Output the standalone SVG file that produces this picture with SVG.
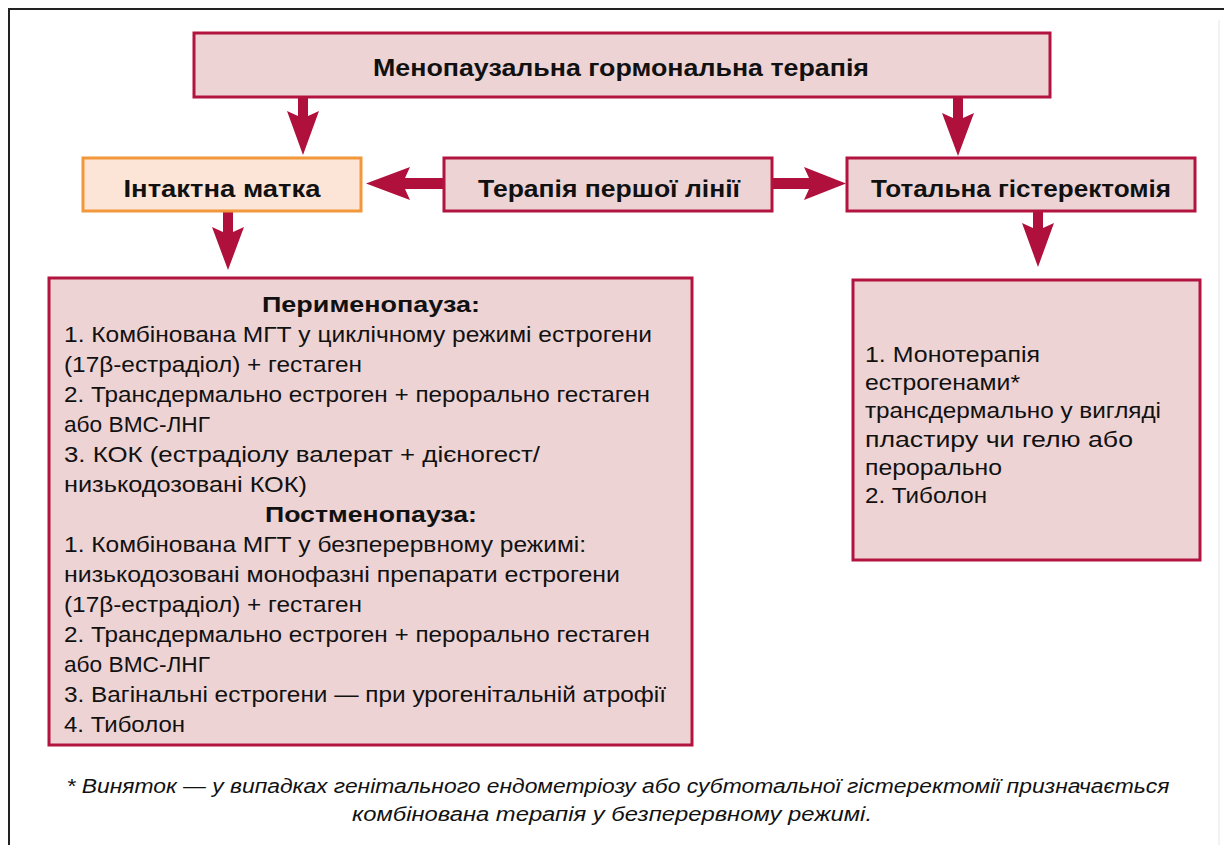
<svg xmlns="http://www.w3.org/2000/svg" width="1224" height="845" viewBox="0 0 1224 845">
<style>
.box{fill:#edd3d3;stroke:#b3143f;stroke-width:3}
.obox{fill:#fce5d7;stroke:#f2973a;stroke-width:3}
.arr{fill:#b0103c}
.t{font-family:"Liberation Sans",Arial,sans-serif;fill:#111}
.h{font-weight:bold;font-size:23px;text-anchor:middle}
.b{font-size:22px}
.bh{font-weight:bold;font-size:22px;text-anchor:middle}
.f{font-style:italic;font-size:20px;text-anchor:middle}
</style>
<rect x="0" y="0" width="1224" height="845" fill="#fff"/>
<path d="M9,845 V9 H1224" fill="none" stroke="#222" stroke-width="2"/>
<line x1="1219" y1="20" x2="1219" y2="845" stroke="#e6e6e6" stroke-width="1"/>

<g id="connectors">
<polygon class="arr" points="298,97 298,116 287,111 303,155 319,111 308,116 308,97"/>
<polygon class="arr" points="953,97 953,118 942,113 958,156 974,113 963,118 963,97"/>
<polygon class="arr" points="223,211 223,232 212,227 228,270 244,227 233,232 233,211"/>
<polygon class="arr" points="1033,211 1033,228 1022,223 1038,267 1054,223 1043,228 1043,211"/>
<polygon class="arr" points="444,178 405,178 410,167 366,183.5 410,200 405,189 444,189"/>
<polygon class="arr" points="772,178 809,178 804,167 846,183.5 804,200 809,189 772,189"/>
</g>

<g id="node-mht">
<rect class="box" x="194" y="33" width="856" height="64"/>
<text class="t h" x="621" y="76" font-size="24" textLength="496" lengthAdjust="spacingAndGlyphs">Менопаузальна гормональна терапія</text>
</g>

<g id="node-intact">
<rect class="obox" x="83" y="158" width="278" height="53"/>
<text class="t h" x="222" y="197" textLength="197" lengthAdjust="spacingAndGlyphs">Інтактна матка</text>
</g>

<g id="node-first-line">
<rect class="box" x="444" y="158" width="328" height="53"/>
<text class="t h" x="609" y="197" textLength="262" lengthAdjust="spacingAndGlyphs">Терапія першої лінії</text>
</g>

<g id="node-total">
<rect class="box" x="847" y="158" width="348" height="53"/>
<text class="t h" x="1021" y="197" textLength="300" lengthAdjust="spacingAndGlyphs">Тотальна гістеректомія</text>
</g>

<g id="node-intact-therapy">
<rect class="box" x="49" y="278" width="643" height="467"/>
<text class="t bh" x="371" y="312" textLength="218" lengthAdjust="spacingAndGlyphs">Перименопауза:</text>
<text class="t b" x="64" y="342" textLength="588" lengthAdjust="spacingAndGlyphs">1. Комбінована МГТ у циклічному режимі естрогени</text>
<text class="t b" x="64" y="372" textLength="298" lengthAdjust="spacingAndGlyphs">(17β-естрадіол) + гестаген</text>
<text class="t b" x="64" y="402" textLength="586" lengthAdjust="spacingAndGlyphs">2. Трансдермально естроген + перорально гестаген</text>
<text class="t b" x="64" y="432" textLength="146" lengthAdjust="spacingAndGlyphs">або ВМС-ЛНГ</text>
<text class="t b" x="64" y="462" textLength="476" lengthAdjust="spacingAndGlyphs">3. КОК (естрадіолу валерат + дієногест/</text>
<text class="t b" x="64" y="492" textLength="243" lengthAdjust="spacingAndGlyphs">низькодозовані КОК)</text>
<text class="t bh" x="371" y="522" textLength="212" lengthAdjust="spacingAndGlyphs">Постменопауза:</text>
<text class="t b" x="64" y="552" textLength="522" lengthAdjust="spacingAndGlyphs">1. Комбінована МГТ у безперервному режимі:</text>
<text class="t b" x="64" y="582" textLength="556" lengthAdjust="spacingAndGlyphs">низькодозовані монофазні препарати естрогени</text>
<text class="t b" x="64" y="612" textLength="298" lengthAdjust="spacingAndGlyphs">(17β-естрадіол) + гестаген</text>
<text class="t b" x="64" y="642" textLength="586" lengthAdjust="spacingAndGlyphs">2. Трансдермально естроген + перорально гестаген</text>
<text class="t b" x="64" y="672" textLength="146" lengthAdjust="spacingAndGlyphs">або ВМС-ЛНГ</text>
<text class="t b" x="64" y="702" textLength="602" lengthAdjust="spacingAndGlyphs">3. Вагінальні естрогени — при урогенітальній атрофії</text>
<text class="t b" x="64" y="732" textLength="121" lengthAdjust="spacingAndGlyphs">4. Тиболон</text>
</g>

<g id="node-total-therapy">
<rect class="box" x="853" y="280" width="347" height="280"/>
<text class="t b" x="865" y="362" textLength="175" lengthAdjust="spacingAndGlyphs">1. Монотерапія</text>
<text class="t b" x="865" y="390" textLength="155" lengthAdjust="spacingAndGlyphs">естрогенами*</text>
<text class="t b" x="865" y="418" textLength="296" lengthAdjust="spacingAndGlyphs">трансдермально у вигляді</text>
<text class="t b" x="865" y="447" textLength="268" lengthAdjust="spacingAndGlyphs">пластиру чи гелю або</text>
<text class="t b" x="865" y="475" textLength="137" lengthAdjust="spacingAndGlyphs">перорально</text>
<text class="t b" x="865" y="503" textLength="122" lengthAdjust="spacingAndGlyphs">2. Тиболон</text>
</g>

<g id="footnote">
<text class="t f" x="618" y="793" textLength="1103" lengthAdjust="spacingAndGlyphs">* Виняток — у випадках генітального ендометріозу або субтотальної гістеректомії призначається</text>
<text class="t f" x="612" y="821" textLength="520" lengthAdjust="spacingAndGlyphs">комбінована терапія у безперервному режимі.</text>
</g>
</svg>
